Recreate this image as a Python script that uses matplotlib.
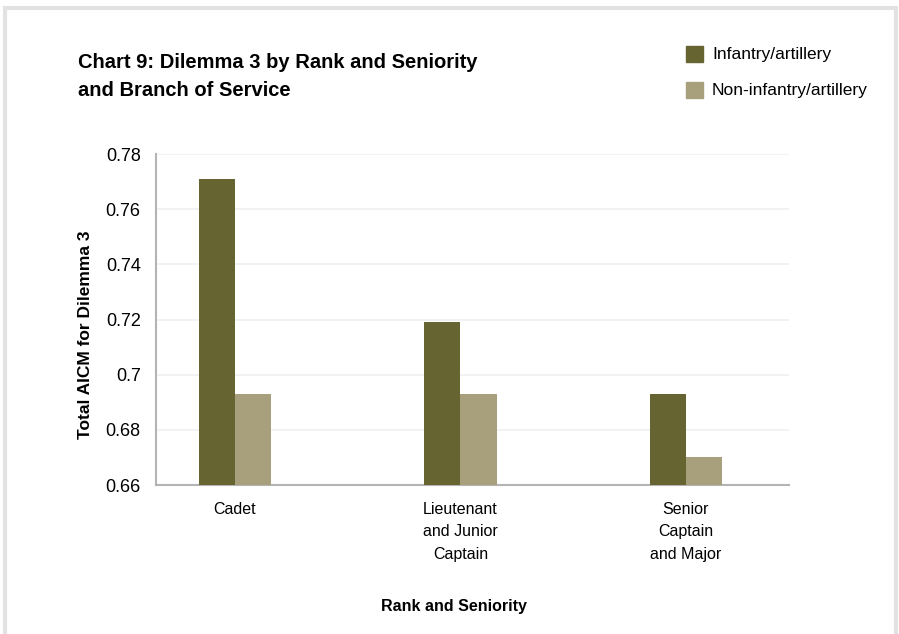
import matplotlib
matplotlib.use('Agg')
import matplotlib.pyplot as plt
import numpy as np
from matplotlib.patches import Rectangle

plt.rcParams['font.family'] = ['Liberation Sans', 'DejaVu Sans']

categories = ['Cadet', 'Lieutenant\nand Junior\nCaptain', 'Senior\nCaptain\nand Major']
infantry = [0.771, 0.719, 0.693]
non_infantry = [0.693, 0.693, 0.670]
yticks = [0.66, 0.68, 0.7, 0.72, 0.74, 0.76, 0.78]
ytick_labels = ['0.66', '0.68', '0.7', '0.72', '0.74', '0.76', '0.78']

dark = '#666430'
light = '#a8a07c'

fig = plt.figure(figsize=(8.99, 6.34), dpi=100)
ax = fig.add_axes([156 / 899, 1 - 485 / 634, 633 / 899, 331 / 634])

x = np.arange(len(categories))
w = 0.16
ax.bar(x - w / 2, infantry, w, color=dark, zorder=3)
ax.bar(x + w / 2, non_infantry, w, color=light, zorder=3)

ax.set_ylim(0.66, 0.78)
ax.set_xlim(-0.35, 2.457)
ax.set_yticks(yticks)
ax.set_yticklabels(ytick_labels, fontsize=13)
ax.set_xticks(x)
ax.set_xticklabels(categories, fontsize=11.5, linespacing=1.65)
ax.tick_params(axis='x', length=0, pad=12)
ax.tick_params(axis='y', length=0, pad=11)
ax.grid(axis='y', color='#f0f0f0', linewidth=1.2, zorder=0)
for s in ['top', 'right']:
    ax.spines[s].set_visible(False)
for s in ['left', 'bottom']:
    ax.spines[s].set_color('#b4b4b4')
    ax.spines[s].set_linewidth(1.5)

ax.set_ylabel('Total AICM for Dilemma 3', fontsize=12.5, fontweight='bold', va='center')
ax.yaxis.set_label_coords(-(156 - 85) / 633, (485 - 335) / 331)
ax.set_xlabel('Rank and Seniority', fontsize=11.5, fontweight='bold', va='center')
ax.xaxis.set_label_coords((454 - 156) / 633, -(606 - 485) / 331)

fig.text(78 / 899, 1 - 62 / 634, 'Chart 9: Dilemma 3 by Rank and Seniority',
         fontsize=14.5, fontweight='bold', va='center')
fig.text(78 / 899, 1 - 91 / 634, 'and Branch of Service',
         fontsize=14.5, fontweight='bold', va='center')

# legend squares and labels
for yy, col, lab in [(54, dark, 'Infantry/artillery'), (90, light, 'Non-infantry/artillery')]:
    fig.patches.append(Rectangle((686 / 899, 1 - (yy + 8) / 634), 17 / 899, 16 / 634,
                                 transform=fig.transFigure, color=col))
    fig.text(712 / 899, 1 - yy / 634, lab, fontsize=12.5, va='center')

# outer frame
fig.patches.append(Rectangle((5 / 899, -0.02), 891 / 899, 1 - 8 / 634 + 0.02,
                             transform=fig.transFigure, fill=False,
                             edgecolor='#e2e2e2', linewidth=3))

fig.savefig('out.png', dpi=100)
